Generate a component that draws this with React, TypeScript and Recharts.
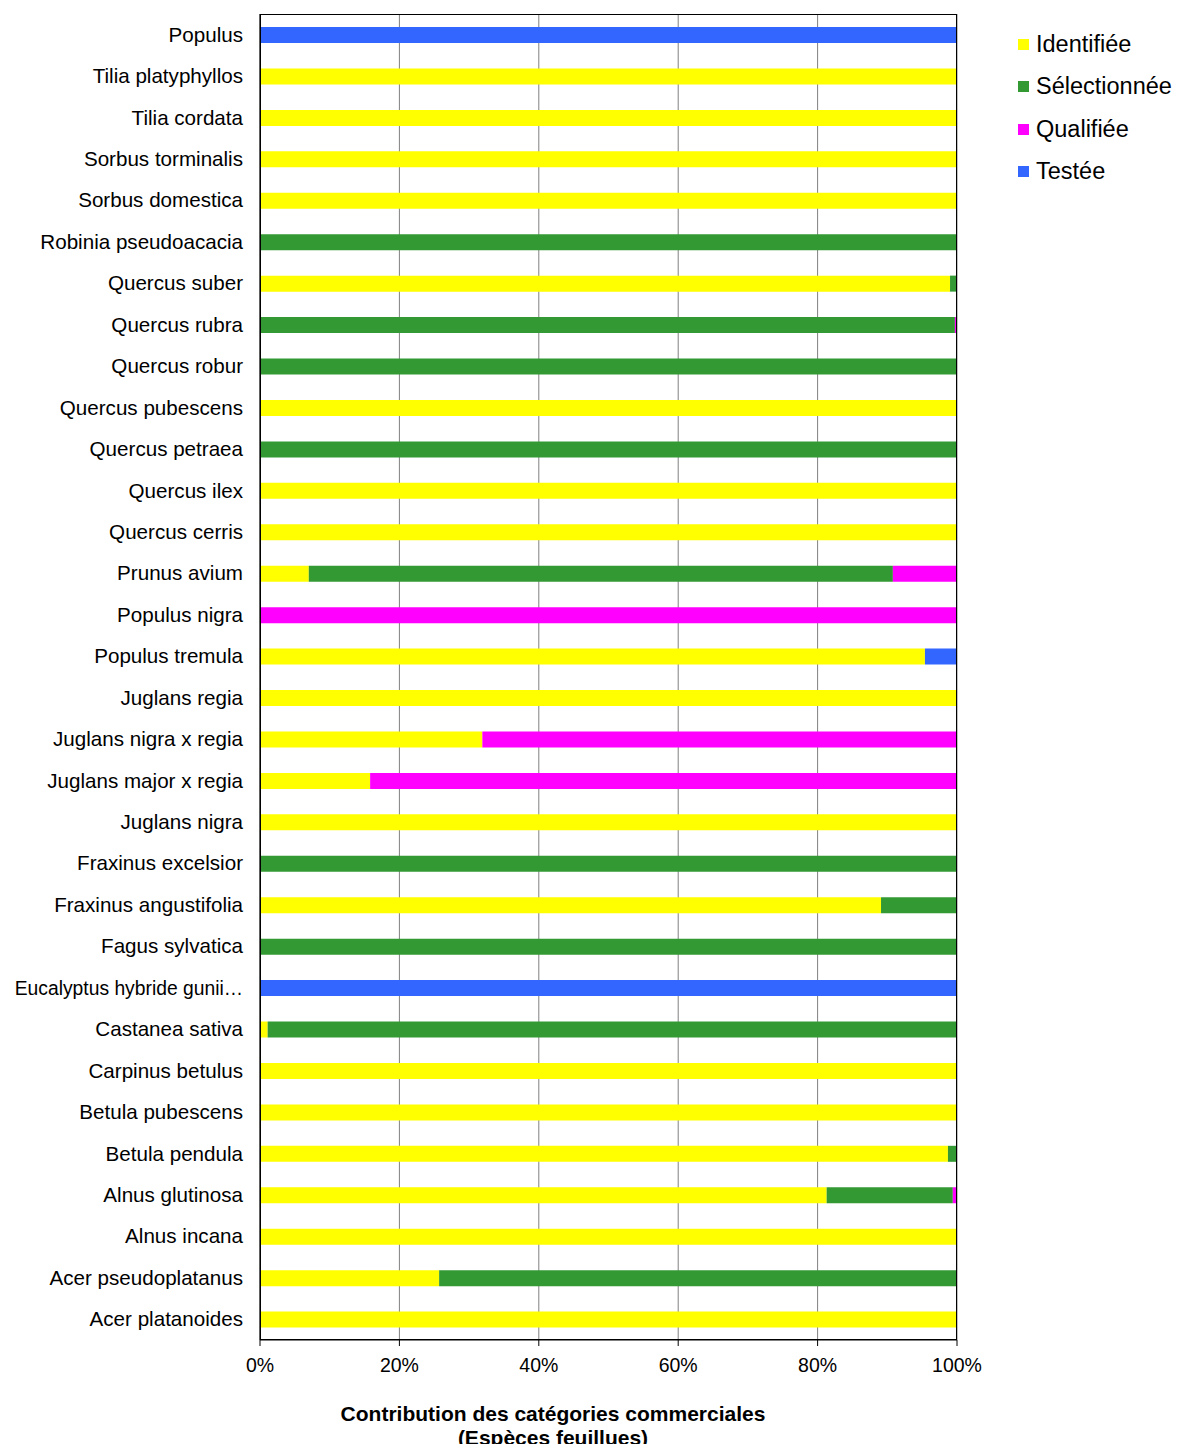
import React from 'react';
import { BarChart, Bar, XAxis, YAxis, CartesianGrid } from 'recharts';

const categories = ['Populus','Tilia platyphyllos','Tilia cordata','Sorbus torminalis','Sorbus domestica','Robinia pseudoacacia','Quercus suber','Quercus rubra','Quercus robur','Quercus pubescens','Quercus petraea','Quercus ilex','Quercus cerris','Prunus avium','Populus nigra','Populus tremula','Juglans regia','Juglans nigra x regia','Juglans major x regia','Juglans nigra','Fraxinus excelsior','Fraxinus angustifolia','Fagus sylvatica','Eucalyptus hybride gunii…','Castanea sativa','Carpinus betulus','Betula pubescens','Betula pendula','Alnus glutinosa','Alnus incana','Acer pseudoplatanus','Acer platanoides'];
const identifiee = [0,100,100,100,100,0,99,0,0,100,0,100,100,7,0,95.4,100,31.9,15.8,100,0,89.1,0,0,1.1,100,100,98.7,81.3,100,25.7,100];
const selectionnee = [0,0,0,0,0,100,1,99.7,100,0,100,0,0,83.8,0,0,0,0,0,0,100,10.9,100,0,98.9,0,0,1.3,18.1,0,74.3,0];
const qualifiee = [0,0,0,0,0,0,0,0.3,0,0,0,0,0,9.2,100,0,0,68.1,84.2,0,0,0,0,0,0,0,0,0,0.6,0,0,0];
const testee = [100,0,0,0,0,0,0,0,0,0,0,0,0,0,0,4.6,0,0,0,0,0,0,0,100,0,0,0,0,0,0,0,0];
const xTicks = [0,20,40,60,80,100];

const data = categories.map((c, i) => ({ name: c, I: identifiee[i], S: selectionnee[i], Q: qualifiee[i], T: testee[i] }));
const legend = [['Identifiée','#ffff00'],['Sélectionnée','#339933'],['Qualifiée','#ff00ff'],['Testée','#3366ff']];
const font = 'Liberation Sans, Arial, sans-serif';

const YTick = (props: any) => {
  const { x, y, payload } = props;
  const long = String(payload.value).length > 22;
  return (
    <text x={x} y={y} dy={7} textAnchor="end" fill="#000" fontSize={long ? 19.3 : 20.6} fontFamily={font}>
      {payload.value}
    </text>
  );
};

export default function App() {
  return (
    <div style={{ position: 'relative', width: 1165, height: 1436, fontFamily: font }}>
      <BarChart width={1165} height={1436} data={data} layout="vertical" barSize={16}
        margin={{ top: 6, right: 216, bottom: 74, left: 0 }}>
        <CartesianGrid horizontal={false} vertical stroke="#808080" />
        <XAxis type="number" domain={[0, 100]} ticks={xTicks} tickFormatter={(v) => v + '%'}
          axisLine={{ stroke: '#000' }} tickLine={{ stroke: '#000' }} height={30} tickMargin={12}
          tick={{ fill: '#000', fontSize: 19.5, fontFamily: font }} />
        <YAxis type="category" dataKey="name" width={252} axisLine={{ stroke: '#000' }} tickLine={false}
          tick={<YTick />} tickMargin={11} interval={0} />
        <Bar dataKey="I" stackId="a" fill="#ffff00" isAnimationActive={false} />
        <Bar dataKey="S" stackId="a" fill="#339933" isAnimationActive={false} />
        <Bar dataKey="Q" stackId="a" fill="#ff00ff" isAnimationActive={false} />
        <Bar dataKey="T" stackId="a" fill="#3366ff" isAnimationActive={false} />
      </BarChart>
      <div style={{ position: 'absolute', left: 252, top: 6, width: 697, height: 1326, border: '1.5px solid #000', boxSizing: 'border-box', pointerEvents: 'none' }} />
      {legend.map(([n, c], i) => (
        <div key={n} style={{ position: 'absolute', left: 1010, top: 23 + i * 42.3, display: 'flex', alignItems: 'center', fontSize: 23.5, whiteSpace: 'nowrap' }}>
          <span style={{ width: 11, height: 11, background: c, marginRight: 7 }} />{n}
        </div>
      ))}
      <div style={{ position: 'absolute', left: 245, width: 600, top: 1394, textAlign: 'center', fontWeight: 'bold', fontSize: 21, lineHeight: '24px' }}>
        Contribution des catégories commerciales<br />(Espèces feuillues)
      </div>
    </div>
  );
}
